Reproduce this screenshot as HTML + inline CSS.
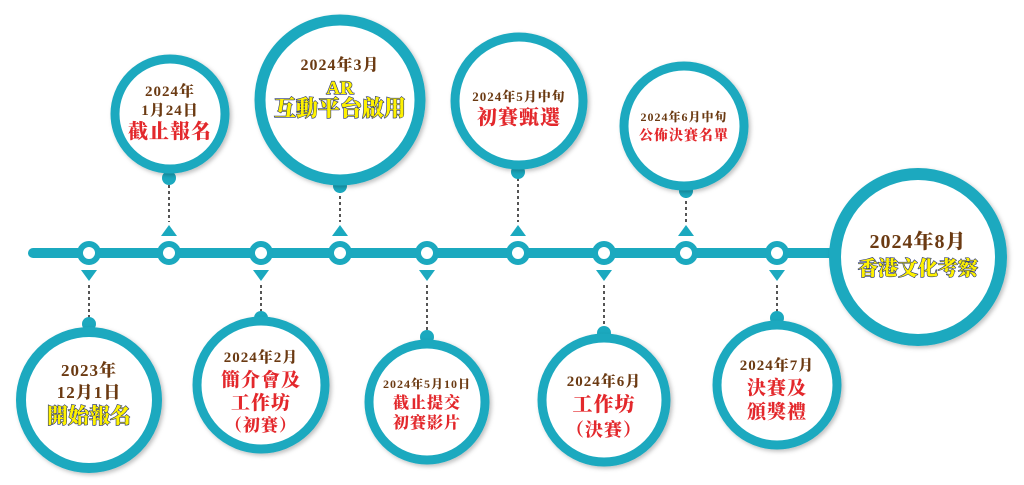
<!DOCTYPE html>
<html><head><meta charset="utf-8"><style>
html,body{margin:0;padding:0;background:#fff;width:1024px;height:485px;overflow:hidden}
svg text{font-family:"Liberation Serif","Noto Serif CJK SC",serif;font-weight:900;text-anchor:middle}
.b{fill:#6b3a12;letter-spacing:1px}
.r{fill:#e3282c;letter-spacing:1px}
.y{fill:#fff200;stroke:#23307a;stroke-width:1.2px;paint-order:stroke}
</style></head><body>
<svg width="1024" height="485" viewBox="0 0 1024 485" xmlns="http://www.w3.org/2000/svg">
<defs>
<filter id="sh" x="-20%" y="-20%" width="140%" height="140%"><feDropShadow dx="2" dy="2" stdDeviation="2" flood-color="#000" flood-opacity="0.25"/></filter>
</defs>
<g stroke="#1ba9bf" fill="#fff">
<line x1="33" y1="253" x2="840" y2="253" stroke-width="10" stroke-linecap="round"/>
</g>
<g stroke="#555" stroke-width="2" stroke-dasharray="3,3">
<line x1="169" y1="185" x2="169" y2="222"/>
<line x1="340" y1="190" x2="340" y2="222"/>
<line x1="518" y1="178" x2="518" y2="222"/>
<line x1="686" y1="195" x2="686" y2="222"/>
<line x1="89" y1="285" x2="89" y2="318"/>
<line x1="261" y1="285" x2="261" y2="312"/>
<line x1="427" y1="285" x2="427" y2="330"/>
<line x1="604" y1="285" x2="604" y2="325"/>
<line x1="777" y1="285" x2="777" y2="312"/>
</g>
<g fill="#1ba9bf">
<polygon points="161,236 177,236 169,225"/>
<polygon points="332,236 348,236 340,225"/>
<polygon points="510,236 526,236 518,225"/>
<polygon points="678,236 694,236 686,225"/>
<polygon points="81,270 97,270 89,281"/>
<polygon points="253,270 269,270 261,281"/>
<polygon points="419,270 435,270 427,281"/>
<polygon points="596,270 612,270 604,281"/>
<polygon points="769,270 785,270 777,281"/>
<circle cx="169" cy="178" r="7"/><circle cx="340" cy="186" r="7"/><circle cx="518" cy="172" r="7"/><circle cx="686" cy="191" r="7"/>
<circle cx="89" cy="324" r="7"/><circle cx="261" cy="318" r="7"/><circle cx="427" cy="337" r="7"/><circle cx="604" cy="333" r="7"/><circle cx="777" cy="318" r="7"/>
</g>
<g stroke="#1ba9bf" stroke-width="6" fill="#fff">
<circle cx="89" cy="253" r="9"/><circle cx="169" cy="253" r="9"/><circle cx="261" cy="253" r="9"/><circle cx="340" cy="253" r="9"/><circle cx="427" cy="253" r="9"/><circle cx="518" cy="253" r="9"/><circle cx="604" cy="253" r="9"/><circle cx="686" cy="253" r="9"/><circle cx="777" cy="253" r="9"/>
</g>
<g stroke="#1ba9bf" fill="#fff" filter="url(#sh)">
<circle cx="170" cy="114" r="55" stroke-width="9"/>
<circle cx="340" cy="100" r="80" stroke-width="11"/>
<circle cx="519" cy="101" r="64" stroke-width="9"/>
<circle cx="684" cy="126" r="60" stroke-width="9"/>
<circle cx="918" cy="257" r="83" stroke-width="12"/>
<circle cx="89" cy="400" r="68" stroke-width="10"/>
<circle cx="261" cy="385" r="64" stroke-width="9"/>
<circle cx="427" cy="402" r="58" stroke-width="9"/>
<circle cx="604" cy="400" r="62" stroke-width="9"/>
<circle cx="777" cy="385" r="60" stroke-width="9"/>
</g>
<text class="b" x="170" y="96" font-size="15">2024年</text>
<text class="b" x="170" y="115" font-size="15">1月24日</text>
<text class="r" x="170" y="138" font-size="20">截止報名</text>

<text class="b" x="340" y="70" font-size="16">2024年3月</text>
<text class="y" x="340" y="94" font-size="19">AR</text>
<text class="y" x="340" y="116" font-size="22">互動平台啟用</text>

<text class="b" x="519" y="101" font-size="13">2024年5月中旬</text>
<text class="r" x="519" y="124" font-size="20">初賽甄選</text>

<text class="b" x="684" y="121" font-size="12">2024年6月中旬</text>
<text class="r" x="684" y="140" font-size="14">公佈決賽名單</text>

<text class="b" x="918" y="248" font-size="20">2024年8月</text>
<text class="y" x="918" y="275" font-size="20">香港文化考察</text>

<text class="b" x="89" y="376" font-size="17">2023年</text>
<text class="b" x="89" y="398" font-size="17">12月1日</text>
<text class="y" x="89" y="423" font-size="21">開始報名</text>

<text class="b" x="261" y="362" font-size="15">2024年2月</text>
<text class="r" x="261" y="386" font-size="19">簡介會及</text>
<text class="r" x="261" y="409" font-size="19">工作坊</text>
<text class="r" x="261" y="431" font-size="17">（初賽）</text>

<text class="b" x="427" y="388" font-size="12">2024年5月10日</text>
<text class="r" x="427" y="408" font-size="16">截止提交</text>
<text class="r" x="427" y="428" font-size="16">初賽影片</text>

<text class="b" x="604" y="386" font-size="15">2024年6月</text>
<text class="r" x="604" y="411" font-size="20">工作坊</text>
<text class="r" x="604" y="436" font-size="18">（決賽）</text>

<text class="b" x="777" y="370" font-size="15">2024年7月</text>
<text class="r" x="777" y="394" font-size="19">決賽及</text>
<text class="r" x="777" y="418" font-size="19">頒獎禮</text>
</svg>
</body></html>
